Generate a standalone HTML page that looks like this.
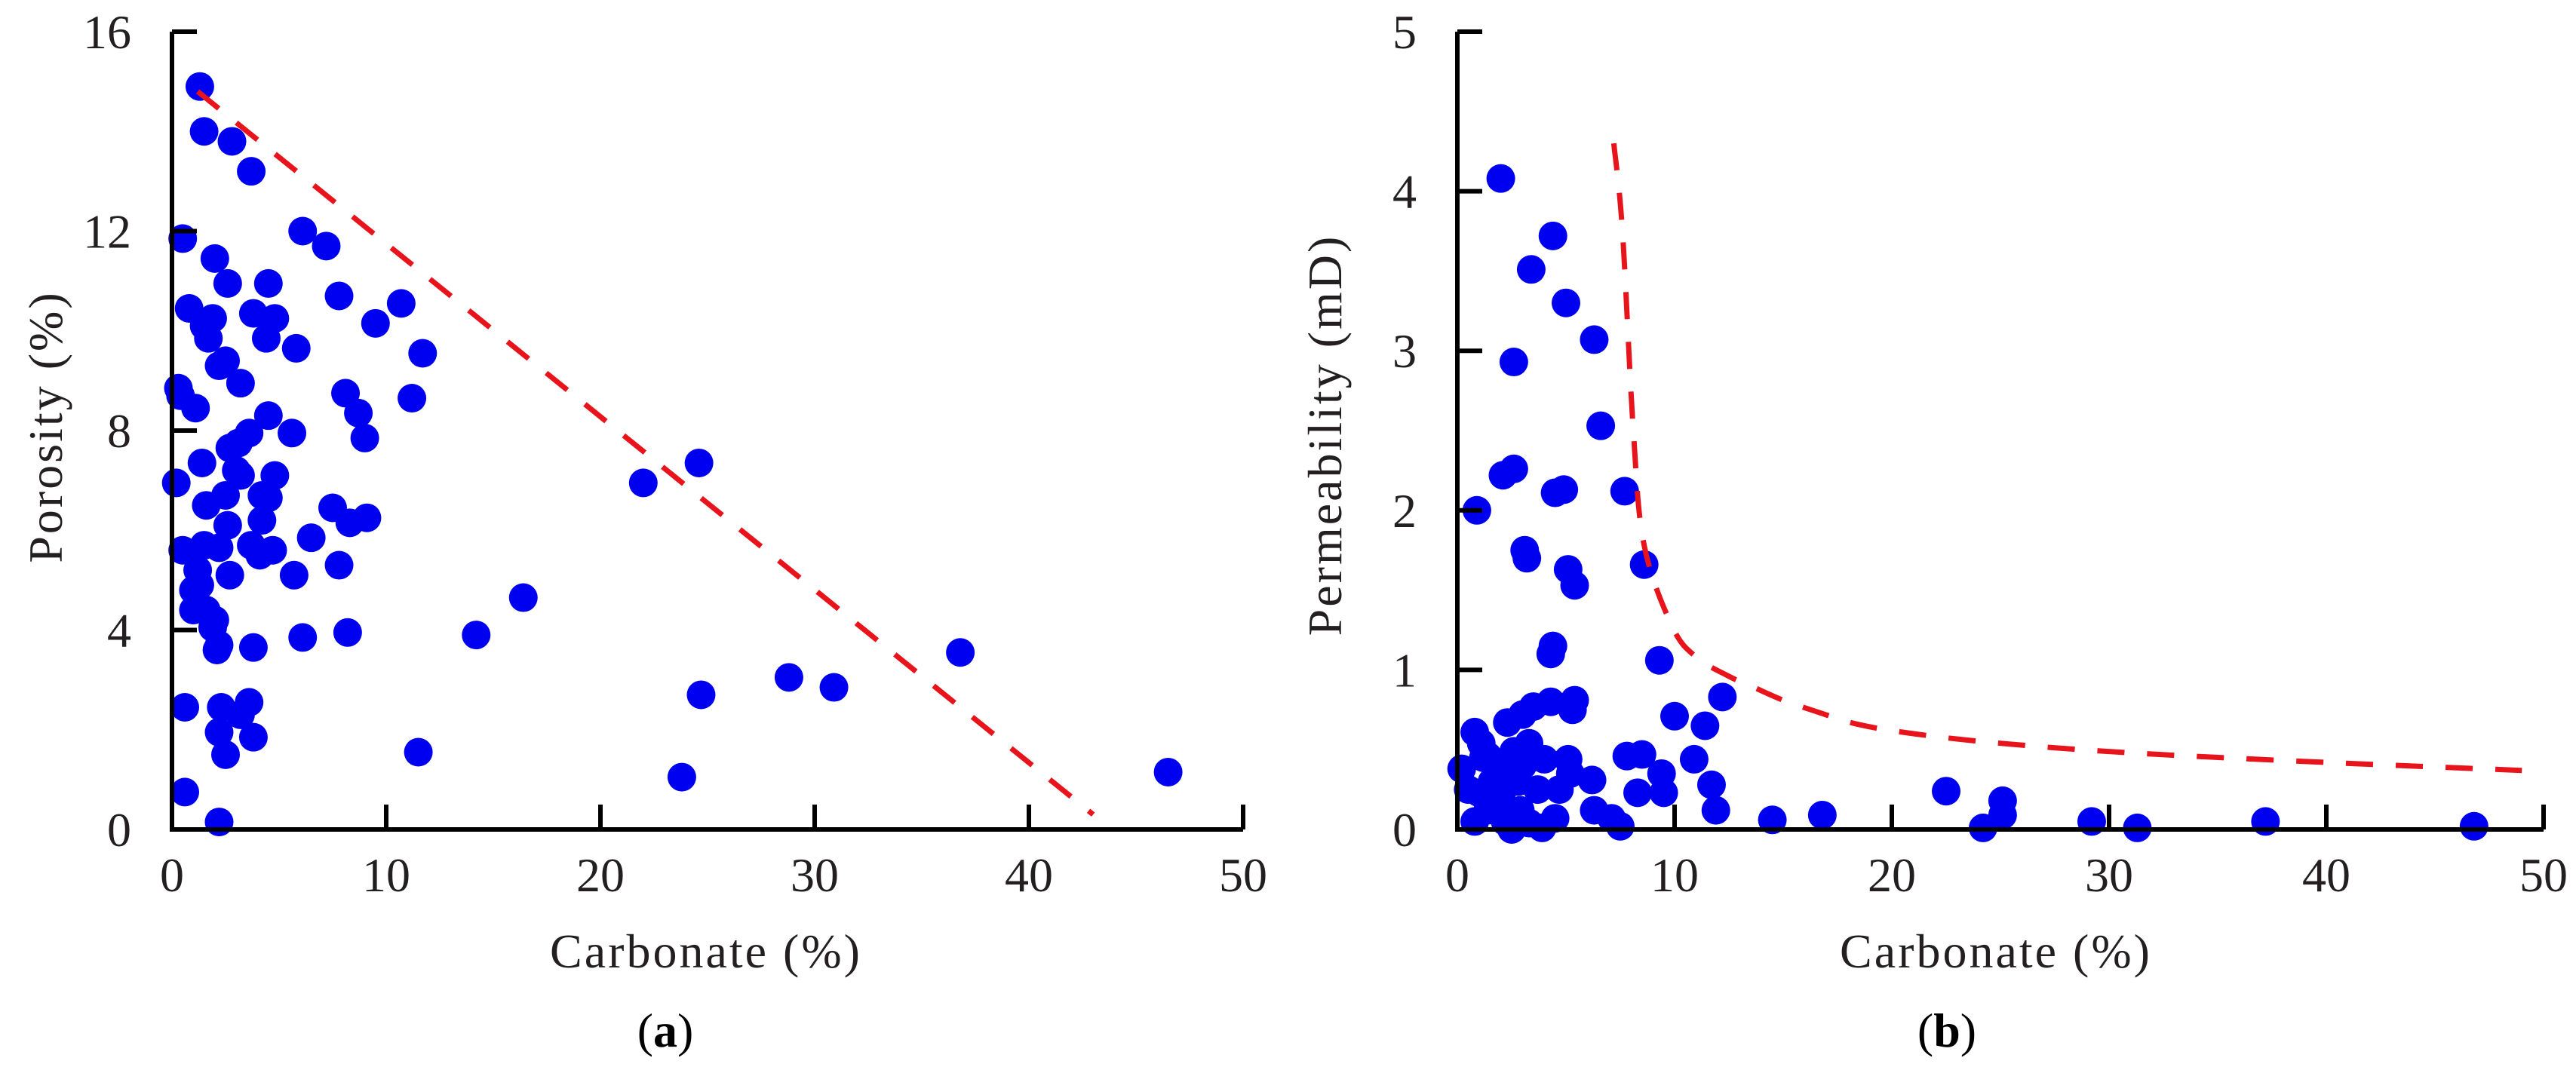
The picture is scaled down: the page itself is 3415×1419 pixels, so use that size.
<!DOCTYPE html>
<html><head><meta charset="utf-8"><style>
html,body{margin:0;padding:0;background:#fff;}
svg{display:block;font-family:"Liberation Serif",serif;}
</style></head><body>
<svg id="chart" width="3415" height="1419" viewBox="0 0 3415 1419" xmlns="http://www.w3.org/2000/svg">
<g id="pa"></g>
<g id="pb"></g>
</svg>
<script>
// Panel (a): carbonate vs porosity
const aX=[1.3,1.5,2.8,3.7,0.5,6.1,7.2,2.0,2.6,4.5,7.8,10.7,0.8,1.9,3.8,4.8,1.5,1.7,4.4,9.5,5.8,11.7,2.5,2.2,3.2,0.3,0.4,1.1,8.1,11.2,4.5,8.7,3.6,5.6,9.0,2.7,3.1,1.4,24.6,0.2,22,3.2,4.8,2.5,1.6,4.2,7.5,4.5,2.6,4.2,9.1,8.3,6.5,0.5,1.5,2.2,3.7,4.7,4.1,2.7,5.7,7.8,1.0,16.4,1.0,1.6,1.9,14.2,6.1,8.2,2.2,3.8,36.8,2.1,0.6,2.3,3.6,3.2,24.7,28.8,30.9,2.2,3.8,2.5,11.5,23.8,46.5,0.6,2.2,1.2,2.0,3.0,1.3];
const aY=[14.9,14.0,13.8,13.2,11.85,12.0,11.7,11.45,10.95,10.95,10.7,10.55,10.45,10.25,10.35,10.25,10.1,9.85,9.85,10.15,9.65,9.55,9.4,9.3,8.95,8.85,8.7,8.45,8.75,8.65,8.3,8.35,7.95,7.95,7.85,7.65,7.75,7.35,7.35,6.95,6.95,7.1,7.1,6.7,6.5,6.7,6.45,6.65,6.1,6.2,6.25,6.15,5.85,5.6,5.7,5.65,5.7,5.6,5.5,5.1,5.1,5.3,4.8,4.65,4.4,4.4,4.05,3.9,3.85,3.95,3.7,3.65,3.55,3.6,2.45,2.45,2.55,2.3,2.7,3.05,2.85,1.95,1.85,1.5,1.55,1.05,1.15,0.75,0.15,5.2,4.2,7.2,4.9];
const aLineX=[1.2,43];
const aLineY=[14.8,0.3];
const aXTicks=["0","10","20","30","40","50"];
const aYTicks=["0","4","8","12","16"];
// Panel (b): carbonate vs permeability
const bX=[2.0,4.4,3.4,5.0,6.3,2.6,6.6,2.6,2.1,0.9,4.5,4.9,7.7,3.1,3.2,5.1,5.4,8.6,4.3,4.4,9.3,12.2,4.3,5.4,5.3,3.0,3.5,2.3,10.0,11.4,0.8,1.1,3.3,1.4,2.6,4.0,5.1,7.8,8.5,10.9,0.2,2.0,5.2,6.2,9.4,11.7,1.0,2.1,3.7,4.7,8.3,9.5,22.5,25.1,1.4,2.9,6.3,11.9,25.1,16.8,0.8,2.2,3.3,4.5,7.1,14.5,29.2,37.2,46.8,24.2,31.3,7.5,3.9,2.5,1.6,2.8,1.8,3.0,0.5,1.2];
const bY=[4.08,3.72,3.51,3.30,3.07,2.93,2.53,2.26,2.22,2.0,2.11,2.13,2.12,1.75,1.70,1.63,1.53,1.66,1.10,1.15,1.06,0.83,0.80,0.81,0.75,0.72,0.77,0.67,0.71,0.65,0.61,0.54,0.54,0.46,0.49,0.44,0.44,0.46,0.47,0.44,0.38,0.38,0.35,0.31,0.35,0.28,0.23,0.25,0.25,0.25,0.23,0.23,0.24,0.18,0.12,0.12,0.12,0.12,0.09,0.09,0.05,0.05,0.04,0.07,0.07,0.06,0.05,0.05,0.02,0.01,0.01,0.02,0.01,0.0,0.3,0.3,0.15,0.4,0.25,0.45];
const bCurveX=[7.2,7.6,8.1,8.6,9.9,11,12.5,13.5,15,16.5,18.4,21,25,31,40,49];
const bCurveY=[4.3,3.75,2.5,1.78,1.27,1.08,0.96,0.9,0.81,0.74,0.66,0.6,0.54,0.48,0.42,0.37];
const bXTicks=["0","10","20","30","40","50"];
const bYTicks=["0","1","2","3","4","5"];

const NS="http://www.w3.org/2000/svg";
function mk(parent,tag,attrs,text){const e=document.createElementNS(NS,tag);for(const k in attrs)e.setAttribute(k,attrs[k]);if(text!==undefined)e.textContent=text;parent.appendChild(e);return e;}

function panel(g,cfg){
  const sx=v=>cfg.x0+(v-cfg.xmin)/(cfg.xmax-cfg.xmin)*(cfg.x1-cfg.x0);
  const sy=v=>cfg.y0-(v-cfg.ymin)/(cfg.ymax-cfg.ymin)*(cfg.y0-cfg.y1);
  for(let i=0;i<cfg.px.length;i++){
    const c=mk(g,'circle',{cx:sx(cfg.px[i]),cy:sy(cfg.py[i]),r:19,fill:'#0000f0'});
    
    
  }
  // smooth trend line (Catmull-Rom)
  const P=cfg.lx.map((v,i)=>[sx(v),sy(cfg.ly[i])]);
  let d='M'+P[0][0].toFixed(1)+' '+P[0][1].toFixed(1);
  for(let i=0;i<P.length-1;i++){
    const p0=P[Math.max(0,i-1)],p1=P[i],p2=P[i+1],p3=P[Math.min(P.length-1,i+2)];
    const c1=[p1[0]+(p2[0]-p0[0])/6,p1[1]+(p2[1]-p0[1])/6];
    const c2=[p2[0]-(p3[0]-p1[0])/6,p2[1]-(p3[1]-p1[1])/6];
    d+=`C${c1[0].toFixed(1)} ${c1[1].toFixed(1)} ${c2[0].toFixed(1)} ${c2[1].toFixed(1)} ${p2[0].toFixed(1)} ${p2[1].toFixed(1)}`;
  }
  const l=mk(g,'path',{d:d,fill:'none',stroke:'#e8141b','stroke-width':7,'stroke-dasharray':'36 30'});
  
  
  const ax=mk(g,'path',{d:`M${cfg.x0} ${cfg.y1}V${cfg.y0}H${cfg.x1}`,fill:'none',stroke:'#000','stroke-width':6});
  
  
  const nx=cfg.xt.length-1, ny=cfg.yt.length-1;
  cfg.xt.forEach((t,i)=>{
    const v=cfg.xmin+i*(cfg.xmax-cfg.xmin)/nx, x=sx(v);
    if(i>0){const tk=mk(g,'line',{x1:x,x2:x,y1:cfg.y0,y2:cfg.y0-33,stroke:'#000','stroke-width':6});
      
      }
    const tx=mk(g,'text',{x:x,y:cfg.y0+82,'font-size':64,'text-anchor':'middle',fill:'#231f20'},t);
    
    
  });
  cfg.yt.forEach((t,i)=>{
    const v=cfg.ymin+i*(cfg.ymax-cfg.ymin)/ny, y=sy(v);
    if(i>0){const tk=mk(g,'line',{x1:cfg.x0,x2:cfg.x0+33,y1:y,y2:y,stroke:'#000','stroke-width':6});
      
      }
    const tx=mk(g,'text',{x:cfg.x0-54,y:y+22,'font-size':64,'text-anchor':'end',fill:'#231f20'},t);
    
    
  });
  const xt=mk(g,'text',{x:cfg.xtx,y:1283,'font-size':64,'letter-spacing':3,'text-anchor':'middle',fill:'#231f20'},'Carbonate (%)');
  
  
  const yt=mk(g,'text',{x:0,y:0,'font-size':64,'letter-spacing':3,'text-anchor':'middle',fill:'#231f20',transform:`translate(${cfg.ytx},${cfg.yty}) rotate(-90)`},cfg.ytitle);
  
  
  const lb=mk(g,'text',{x:cfg.lbx,y:1388,'font-size':64,'text-anchor':'middle',fill:'#000'});
  
  
  mk(lb,'tspan',{},'(');mk(lb,'tspan',{'font-weight':'bold'},cfg.lbl);mk(lb,'tspan',{},')');
}
panel(document.getElementById('pa'),{x0:228,x1:1648,y0:1100,y1:42,xmin:0,xmax:50,ymin:0,ymax:16,px:aX,py:aY,lx:aLineX,ly:aLineY,xt:aXTicks,yt:aYTicks,xtx:936,ytx:82,yty:566,ytitle:'Porosity (%)',lbx:882,lbl:'a'});
panel(document.getElementById('pb'),{x0:1932,x1:3372,y0:1100,y1:42,xmin:0,xmax:50,ymin:0,ymax:5,px:bX,py:bY,lx:bCurveX,ly:bCurveY,xt:bXTicks,yt:bYTicks,xtx:2646,ytx:1778,yty:577,ytitle:'Permeability (mD)',lbx:2581,lbl:'b'});
</script>
</body></html>
